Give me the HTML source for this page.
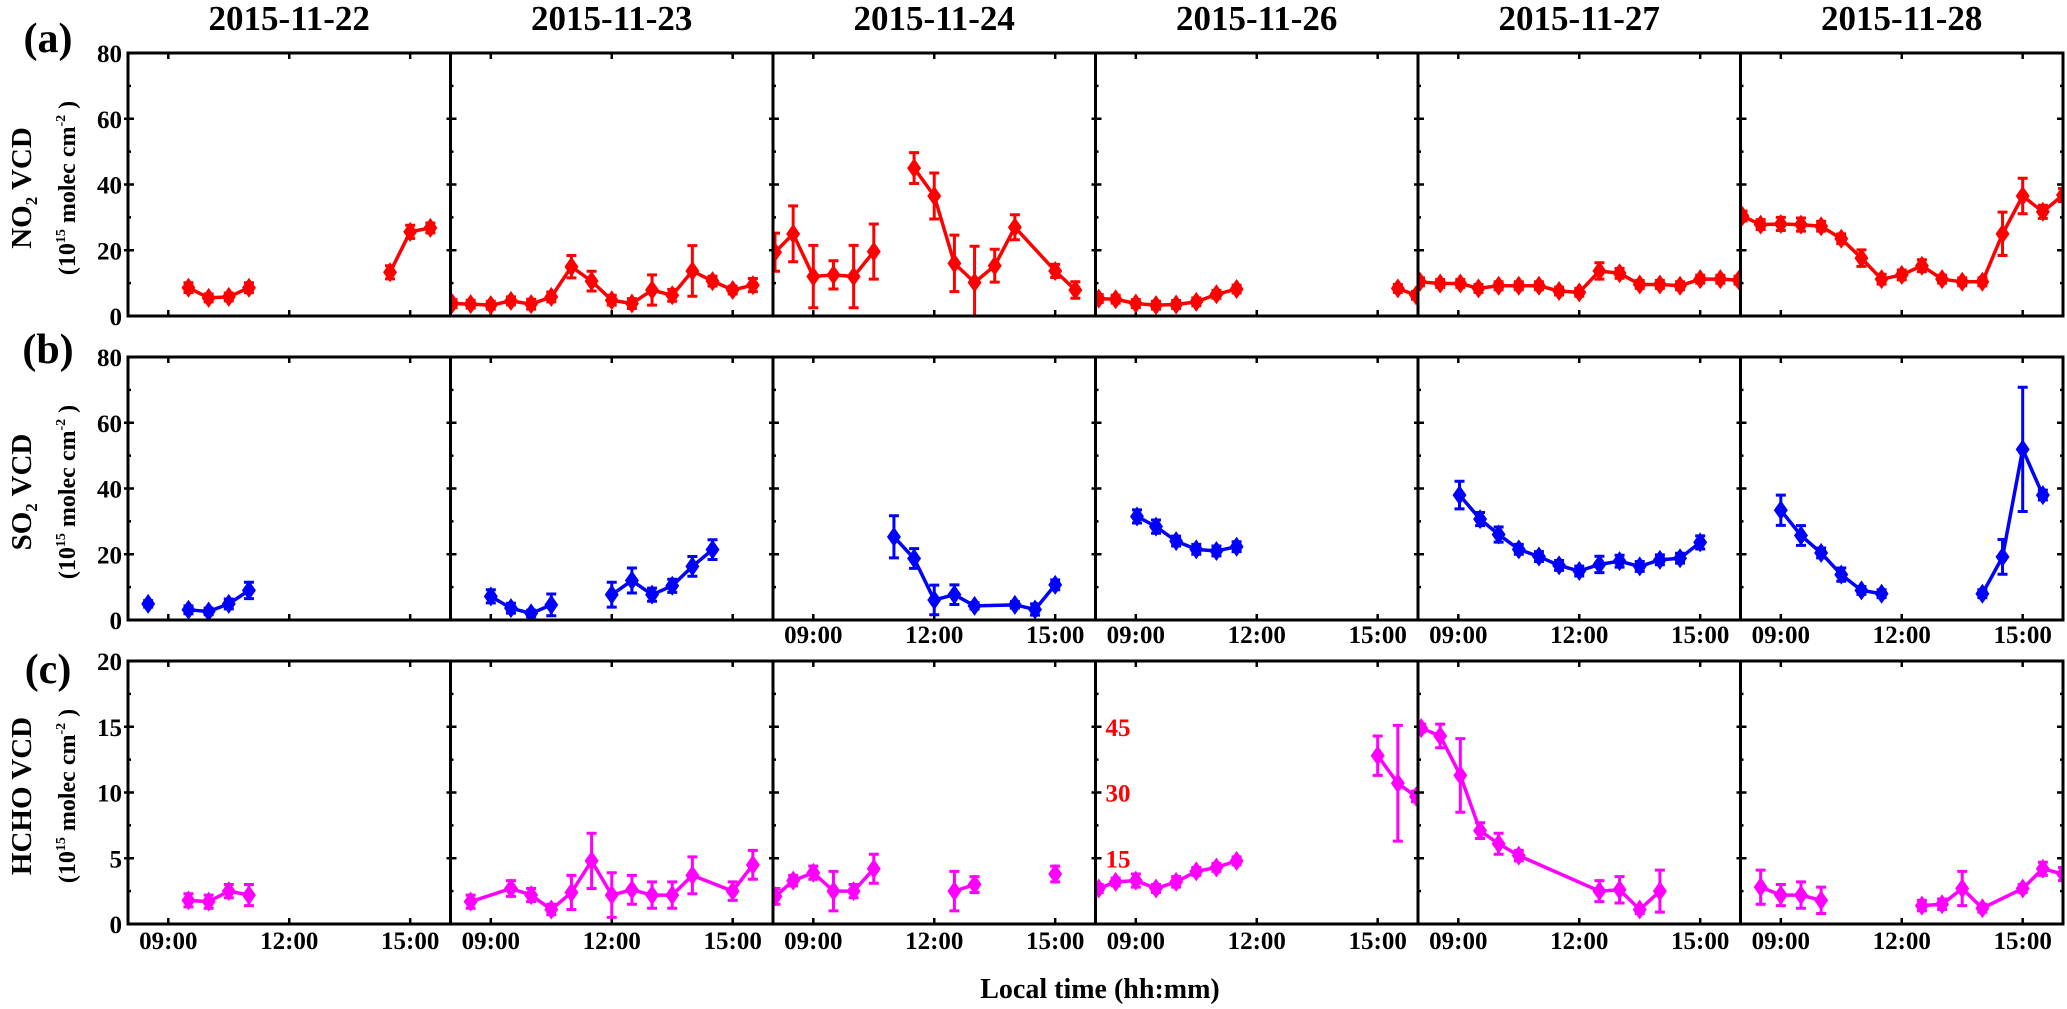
<!DOCTYPE html>
<html><head><meta charset="utf-8"><style>
html,body{margin:0;padding:0;background:#fff;}
svg{display:block;font-family:"Liberation Serif",serif;font-weight:bold;}
</style></head><body>
<svg id="chart" width="2067" height="1009" viewBox="0 0 2067 1009" xmlns="http://www.w3.org/2000/svg">
<defs id="defs"></defs>
<g id="titles"></g>
<g id="panels"></g>
<g id="labels">
  <text x="48" y="52" font-size="42" text-anchor="middle">(a)</text>
  <text x="48" y="363" font-size="42" text-anchor="middle">(b)</text>
  <text x="48" y="683" font-size="42" text-anchor="middle">(c)</text>
  <text transform="translate(31,188) rotate(-90)" font-size="29" text-anchor="middle">NO<tspan font-size="17" dy="6">2</tspan><tspan dy="-6"> VCD</tspan></text>
  <text transform="translate(75,188) rotate(-90)" font-size="24" text-anchor="middle">(10<tspan font-size="14" dy="-10">15</tspan><tspan dy="10"> molec cm</tspan><tspan font-size="14" dy="-10">-2</tspan><tspan dy="10"> )</tspan></text>
  <text transform="translate(31,492) rotate(-90)" font-size="29" text-anchor="middle">SO<tspan font-size="17" dy="6">2</tspan><tspan dy="-6"> VCD</tspan></text>
  <text transform="translate(75,492) rotate(-90)" font-size="24" text-anchor="middle">(10<tspan font-size="14" dy="-10">15</tspan><tspan dy="10"> molec cm</tspan><tspan font-size="14" dy="-10">-2</tspan><tspan dy="10"> )</tspan></text>
  <text transform="translate(31,796) rotate(-90)" font-size="29" text-anchor="middle">HCHO VCD</text>
  <text transform="translate(75,796) rotate(-90)" font-size="24" text-anchor="middle">(10<tspan font-size="14" dy="-10">15</tspan><tspan dy="10"> molec cm</tspan><tspan font-size="14" dy="-10">-2</tspan><tspan dy="10"> )</tspan></text>
  <text x="1100" y="998" font-size="28" text-anchor="middle">Local time (hh:mm)</text>
</g>
</svg>
<script>
const dates = ["2015-11-22","2015-11-23","2015-11-24","2015-11-26","2015-11-27","2015-11-28"];
const xTickHours = [9,12,15];
const xTickLabels = ["09:00","12:00","15:00"];
const no2Ticks = [0,20,40,60,80];
const so2Ticks = [0,20,40,60,80];
const hchoTicks = [0,5,10,15,20];
const hchoSecondaryTicks = [15,30,45];

const no2Times = [
 [9.5,10,10.5,11,null,14.5,15,15.5],
 [8.05,8.5,9,9.5,10,10.5,11,11.5,12,12.5,13,13.5,14,14.5,15,15.5],
 [8.05,8.5,9,9.5,10,10.5,null,11.5,12,12.5,13,13.5,14,15,15.5],
 [8.08,8.5,9,9.5,10,10.5,11,11.5,null,15.5,15.95],
 [8.05,8.55,9.05,9.5,10,10.5,11,11.5,12,12.5,13,13.5,14,14.5,15,15.5,15.95],
 [8.05,8.5,9,9.5,10,10.5,11,11.5,12,12.5,13,13.5,14,14.5,15,15.5,16]
];
const no2Values = [
 [8.6,5.5,5.8,8.6,null,13.3,25.6,26.8],
 [3.8,3.6,3.3,4.6,3.6,5.8,15,10.6,4.8,3.8,7.9,6.3,13.7,10.6,7.9,9.4],
 [19.4,25,12,12.5,12,19.6,null,45,36.5,16,10.2,15.3,27,13.7,7.9],
 [5.3,5.1,3.8,3.3,3.5,4.3,6.6,8.2,null,8.4,6.3],
 [10.4,9.9,9.9,8.4,9.2,9.2,9.2,7.6,7.2,13.7,13,9.6,9.6,9.2,11.2,11.2,10.9],
 [30.4,27.8,28,27.8,27.3,23.5,17.6,11.2,12.5,15.3,11.2,10.4,10.4,25,36.5,31.7,36.8]
];
const no2Errors = [
 [1.5,1.2,1.2,1.5,null,2,2,1.5],
 [1.2,1.2,1.2,1.2,1.5,1.5,3.4,3,1.5,1.5,4.6,1.8,7.7,1.5,1.2,2],
 [5.8,8.5,9.5,4.3,9.5,8.4,null,4.7,7,8.6,11,5,3.8,2,2.5],
 [1.2,1.2,1.2,1.2,1.2,1.2,1.2,1.2,null,1.2,1.2],
 [1.2,1.2,1.2,1.2,1.2,1.2,1.2,1.2,1.2,2.5,1.5,1.2,1.2,1.2,1.2,1.2,1.2],
 [1.5,1.5,2,2,1.5,1.5,2.5,1.5,1.5,1.8,1.2,1.2,1.2,6.6,5.4,2,2]
];

const so2Times = [
 [8.5,null,9.5,10,10.5,11],
 [9,9.5,10,10.5,null,12,12.5,13,13.5,14,14.5],
 [11,11.5,12,12.5,13,14,14.5,15],
 [9.03,9.5,10,10.5,11,11.5],
 [9.03,9.54,10,10.5,11,11.5,12,12.5,13,13.5,14,14.5,15],
 [9,9.5,10,10.5,11,11.5,null,14,14.5,15,15.5]
];
const so2Values = [
 [4.9,null,3.1,2.6,4.9,9],
 [7.2,3.6,2,4.6,null,7.7,12,7.7,10.4,16.3,21.4],
 [25.3,18.7,6.1,7.7,4.3,4.6,3.2,10.7],
 [31.5,28.4,24,21.5,21,22.3],
 [38,30.7,26,21.5,19.3,16.6,14.9,16.9,17.9,16.3,18.3,18.8,23.6],
 [33.4,25.7,20.4,13.8,9,8,null,8,19.2,51.9,38]
];
const so2Errors = [
 [1,null,1.2,1,1.5,2.5],
 [2,1.5,1,3.3,null,3.8,3.8,2,2,3,3],
 [6.4,3,4.5,3,1,1,1.7,1.5],
 [2,2,1.5,1.5,1.5,1.5],
 [4.2,2,2.3,1.5,1.5,1.5,1.5,2.5,1.8,1.5,1.5,1.5,2],
 [4.6,3,1.5,2,1.2,1.2,null,1.2,5.3,18.9,1.5]
];

const hchoTimes = [
 [9.5,10,10.5,11],
 [8.5,9.5,10,10.5,11,11.5,12,12.5,13,13.5,14,15,15.5],
 [8.06,8.5,9,9.5,10,10.5,null,12.5,13,null,15],
 [8.08,8.5,9,9.5,10,10.5,11,11.5,null,15,15.5,15.95],
 [8.08,8.55,9.05,9.54,10,10.5,12.5,13,13.5,14],
 [8.5,9,9.5,10,null,12.5,13,13.5,14,15,15.5,16]
];
const hchoValues = [
 [1.8,1.7,2.5,2.2],
 [1.7,2.7,2.2,1.1,2.4,4.8,2.2,2.6,2.2,2.2,3.7,2.5,4.5],
 [2.1,3.3,3.9,2.5,2.5,4.2,null,2.5,3.0,null,3.8],
 [2.7,3.2,3.3,2.7,3.2,4.0,4.3,4.8,null,12.8,10.7,9.7],
 [14.9,14.3,11.3,7.1,6.1,5.2,2.5,2.6,1.1,2.5],
 [2.8,2.2,2.2,1.8,null,1.4,1.5,2.7,1.2,2.7,4.2,3.8]
];
const hchoErrors = [
 [0.5,0.5,0.5,0.8],
 [0.5,0.6,0.5,0.4,1.3,2.1,1.7,1.1,1,1,1.4,0.7,1.1],
 [0.6,0.4,0.5,1.5,0.5,1.1,null,1.5,0.6,null,0.6],
 [0.3,0.3,0.5,0.3,0.4,0.3,0.3,0.3,null,1.5,4.4,0.4],
 [0.3,0.9,2.8,0.6,0.8,0.4,0.8,1,0.3,1.6],
 [1.3,0.8,1,1,null,0.4,0.4,1.3,0.3,0.3,0.5,0.5]
];

const NS = "http://www.w3.org/2000/svg";
function mk(tag, attrs, parent){
  const e = document.createElementNS(NS, tag);
  for (const k in attrs) e.setAttribute(k, attrs[k]);
  parent.appendChild(e);
  return e;
}
const defs = document.getElementById("defs");
const panelsG = document.getElementById("panels");
const titlesG = document.getElementById("titles");

const LEFT = 128, COLW = 322.5, PH = 263;
const rowTops = [53, 357, 661];
const rows = [
 {name:"no2", times:no2Times, values:no2Values, errors:no2Errors, ticks:no2Ticks, max:80, minor:10, color:"#ff0000"},
 {name:"so2", times:so2Times, values:so2Values, errors:so2Errors, ticks:so2Ticks, max:80, minor:10, color:"#0000ff"},
 {name:"hcho", times:hchoTimes, values:hchoValues, errors:hchoErrors, ticks:hchoTicks, max:20, minor:2.5, color:"#ff00ff"}
];

dates.forEach((d, c) => {
  const t = mk("text", {x: LEFT + c*COLW + COLW/2, y: 30, "font-size": 35, "text-anchor": "middle"}, titlesG);
  
  
  t.textContent = d;
});

rows.forEach((row, r) => {
  const y0 = rowTops[r];
  const yS = v => y0 + PH - v / row.max * PH;
  row.ticks.forEach(v => {
    const t = mk("text", {x: 122, y: yS(v) + 9, "font-size": 25, "text-anchor": "end"}, panelsG);
    
    
    t.textContent = v;
  });
  for (let c = 0; c < 6; c++) {
    const x0 = LEFT + c*COLW;
    const xS = h => x0 + (h - 8) / 8 * COLW;
    const g = mk("g", {}, panelsG);
    
    
    const cid = "clip-" + r + "-" + c;
    const cp = mk("clipPath", {id: cid}, defs);
    mk("rect", {x: x0, y: y0, width: COLW, height: PH}, cp);
    xTickHours.forEach(h => {
      const x = xS(h);
      const tk1 = mk("line", {x1:x, x2:x, y1:y0, y2:y0+6, stroke:"#000", "stroke-width":2.5}, g);
      
      
      const tk2 = mk("line", {x1:x, x2:x, y1:y0+PH, y2:y0+PH-6, stroke:"#000", "stroke-width":2.5}, g);
      
      
    });
    for (let v = row.minor; v < row.max; v += row.minor) {
      const major = row.ticks.indexOf(v) >= 0;
      const len = major ? 6 : 3;
      const yy = yS(v);
      const tk = mk("line", {x1:x0-(major?4:0), x2:x0+len, y1:yy, y2:yy, stroke:"#000", "stroke-width":2.5}, g);
      
      
      if (c === 5) {
        const tr = mk("line", {x1:x0+COLW-len, x2:x0+COLW, y1:yy, y2:yy, stroke:"#000", "stroke-width":2.5}, g);
        
        
      }
    }
    if (r === 2 || (r === 1 && c >= 2)) {
      xTickHours.forEach((h, i) => {
        const t = mk("text", {x: xS(h), y: r === 2 ? 949 : 643, "font-size": 25, "text-anchor": "middle"}, g);
        
        
        t.textContent = xTickLabels[i];
      });
    }
    const dg = mk("g", {"clip-path": "url(#" + cid + ")"}, g);
    
    
    const T = row.times[c], V = row.values[c], E = row.errors[c];
    let seg = [];
    const segs = [];
    for (let i = 0; i < T.length; i++) {
      if (T[i] === null || V[i] === null) { if (seg.length) segs.push(seg); seg = []; continue; }
      seg.push([xS(T[i]), yS(V[i])]);
    }
    if (seg.length) segs.push(seg);
    segs.forEach(s => {
      if (s.length < 2) return;
      const pl = mk("polyline", {points: s.map(p => p.join(",")).join(" "), fill:"none", stroke:row.color, "stroke-width":3.5, "stroke-linejoin":"round"}, dg);
      
      
    });
    for (let i = 0; i < T.length; i++) {
      if (T[i] === null || V[i] === null) continue;
      const x = xS(T[i]), y = yS(V[i]);
      const e = E[i] || 0;
      const yt = yS(V[i] + e), yb = yS(Math.max(0, V[i] - e));
      const eb = mk("path", {d: `M${x},${yt}V${yb}M${x-5},${yt}H${x+5}M${x-5},${yb}H${x+5}`, stroke:row.color, "stroke-width":3, fill:"none"}, dg);
      
      
      const mkr = mk("path", {d: `M${x},${y-10}L${x+7},${y}L${x},${y+10}L${x-7},${y}Z`, fill:row.color}, dg);
      
      
    }
    const fr = mk("rect", {x:x0, y:y0, width:COLW, height:PH, fill:"none", stroke:"#000", "stroke-width":3}, g);
    
    
    if (r === 2 && c === 3) {
      hchoSecondaryTicks.forEach(v => {
        const t = mk("text", {x: x0 + 10, y: yS(v/3) + 9, "font-size": 25, fill:"#ff0000"}, g);
        
        
        t.textContent = v;
      });
    }
  }
});
</script>
</body></html>
